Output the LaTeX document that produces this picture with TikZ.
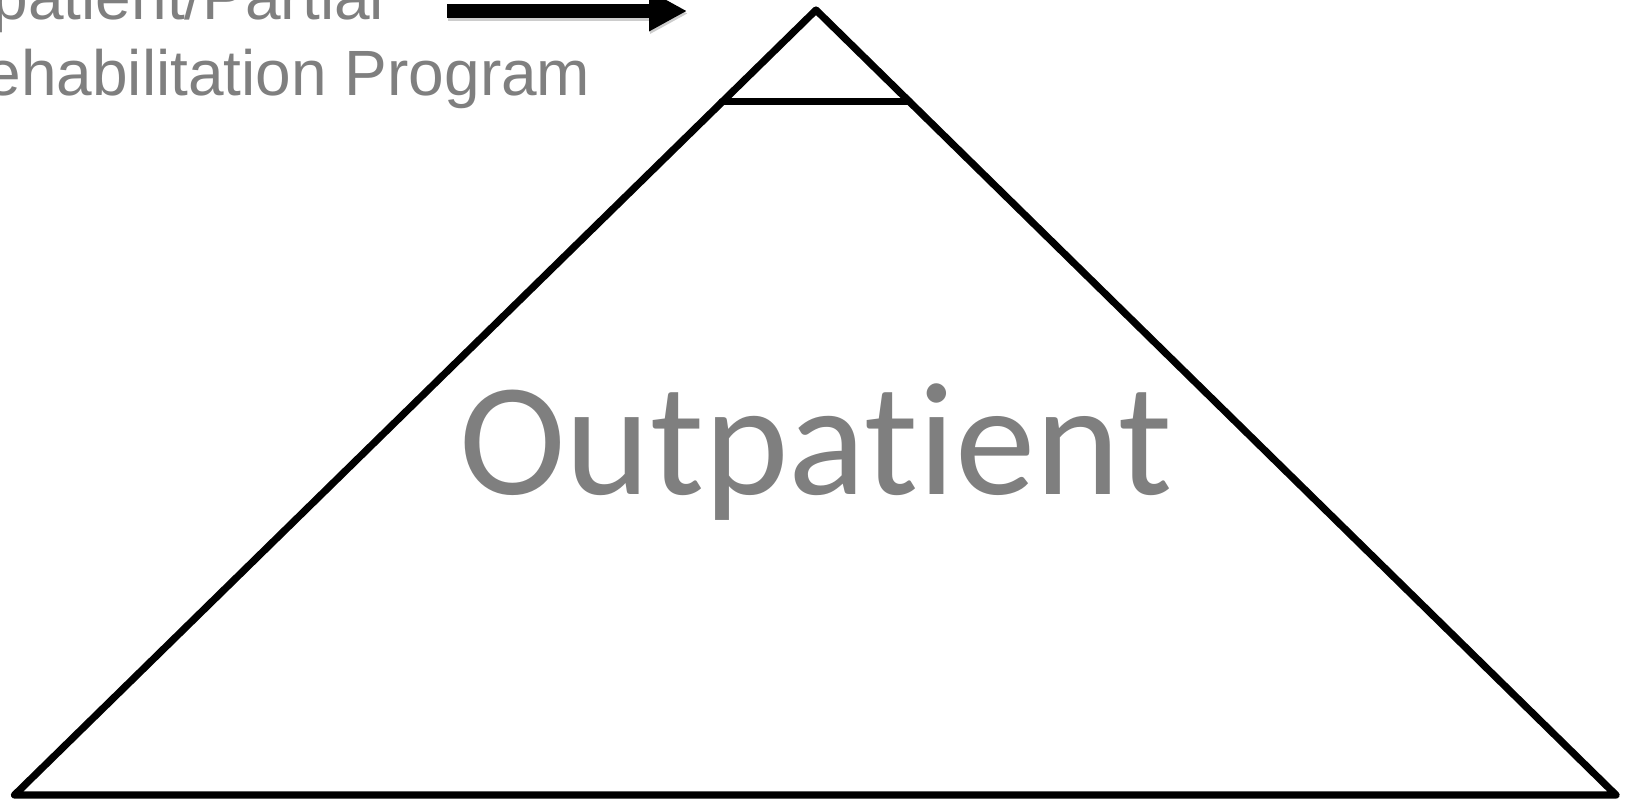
\documentclass[tikz,border=0pt]{standalone}
\usepackage{fontspec}
\setmainfont{Liberation Sans}
\newfontfamily\calfont[Ligatures={NoCommon,NoRequired,NoContextual}]{Carlito}
\usetikzlibrary{arrows.meta}
\definecolor{labelgray}{HTML}{7F7F7F}
\begin{document}
\begin{tikzpicture}[x=0.5pt,y=-0.5pt,
  outline/.style={line width=3.6pt,line join=round,line cap=round},
  sidelabel/.style={inner sep=0pt,anchor=base west,text=labelgray,
    font=\fontsize{32}{40}\selectfont},
  biglabel/.style={inner sep=0pt,anchor=base,text=labelgray,
    font=\calfont\fontsize{80.5}{96}\selectfont},
  bigarrow/.style={line width=7pt,-{Triangle[length=19pt,width=19pt]}}]
  \useasboundingbox (0,0) rectangle (1628,800);
  % pyramid corners
  \coordinate (apex) at (816,10);
  \coordinate (bl) at (14.5,795);
  \coordinate (br) at (1616,795);
  \coordinate (tl) at (722,101.7);
  \coordinate (tr) at (909.5,101.7);
  \draw[outline] (apex) -- (br) -- (bl) -- cycle;
  \draw[outline] (tl) -- (tr);
  % labels
  \node[sidelabel] (inpat) at (-61,19) {Inpatient/Partial};
  \node[sidelabel] (rehab) at (-61,95.5) {Rehabilitation Program};
  % the kern keeps the t and i as separate glyphs
  \node[biglabel] (outpat) at (816,494) {Outpat\kern0pt i\kern0pt ent};
  % arrow pointing at the top level
  \coordinate (astart) at (447,11);
  \coordinate (aend) at (687,11);
  \coordinate (sstart) at (448,13.5);
  \coordinate (send) at (688,13.5);
  \draw[bigarrow,black!20] (sstart) -- (send);
  \draw[bigarrow] (astart) -- (aend);
\end{tikzpicture}
\end{document}
